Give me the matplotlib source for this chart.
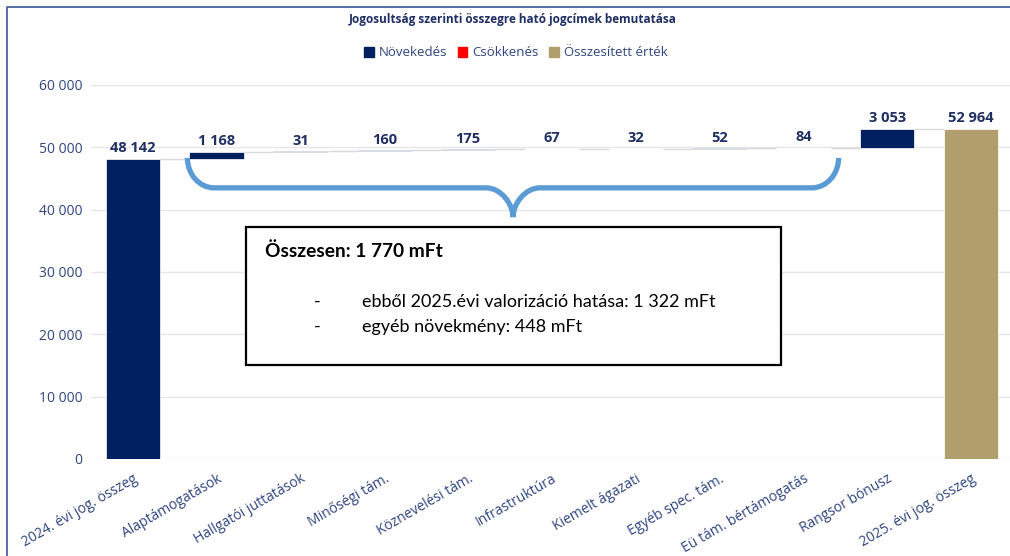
import matplotlib
matplotlib.use("Agg")
import matplotlib.pyplot as plt
from matplotlib.path import Path
from matplotlib.patches import PathPatch, Rectangle
from matplotlib.lines import Line2D
from matplotlib.ticker import FuncFormatter, MultipleLocator

# ---- data -------------------------------------------------------------
categories = [
    "2024. évi jog. összeg", "Alaptámogatások", "Hallgatói juttatások",
    "Minőségi tám.", "Köznevelési tám.", "Infrastruktúra",
    "Kiemelt ágazati", "Egyéb spec. tám.", "Eü tám. bértámogatás",
    "Rangsor bónusz", "2025. évi jog. összeg",
]
start_total = 48142
increments = [1168, 31, 160, 175, 67, 32, 52, 84, 3053]
end_total = 52964

title = "Jogosultság szerinti összegre ható jogcímek bemutatása"
legend_labels = ["Növekedés", "Csökkenés", "Összesített érték"]
box_title = "Összesen: 1 770 mFt"
box_lines = ["ebből 2025.évi valorizáció hatása: 1 322 mFt",
             "egyéb növekmény: 448 mFt"]

# ---- style ------------------------------------------------------------
C_UP = "#002060"
C_DOWN = "#ff0000"
C_TOTAL = "#b09e6c"
C_TEXT = "#1f2f63"
C_TICK = "#2f4580"
C_GRID = "#e6e6e6"
C_BRACE = "#5b9bd5"
C_FRAME = "#4a62a0"

plt.rcParams["font.family"] = ["Open Sans", "DejaVu Sans"]

W, H = 1010, 556
fig = plt.figure(figsize=(W / 100, H / 100), dpi=100)


def fx(px):
    return px / W


def fy(py):
    return 1 - py / H


ax = fig.add_axes([fx(91), fy(459), fx(1010) - fx(91), fy(85) - fy(459)])
ax.set_xlim(-0.5, 10.465)
ax.set_ylim(0, 60000)

# ---- waterfall bars ---------------------------------------------------
bar_w = 0.65
n = len(categories)
bottoms, heights, colors = [0], [start_total], [C_UP]
running = start_total
for v in increments:
    bottoms.append(running if v >= 0 else running + v)
    heights.append(abs(v))
    colors.append(C_UP if v >= 0 else C_DOWN)
    running += v
bottoms.append(0)
heights.append(end_total)
colors.append(C_TOTAL)

# connector lines at the running level between neighbouring bars
levels = [start_total]
acc = start_total
for v in increments:
    acc += v
    levels.append(acc)
for i, lvl in enumerate(levels):
    ax.plot([i + bar_w / 2, i + 1 - bar_w / 2], [lvl, lvl],
            color="#d9d9d9", lw=1.0, zorder=2, solid_capstyle="butt")

ax.bar(range(n), heights, bottom=bottoms, width=bar_w, color=colors,
       edgecolor="white", linewidth=0.5, zorder=3)

values = [start_total] + increments + [end_total]
for i, (b, h, v) in enumerate(zip(bottoms, heights, values)):
    ax.annotate(f"{v:,}".replace(",", " "), (i, b + h), xytext=(0, 2.5),
                textcoords="offset points", ha="center", va="bottom",
                fontsize=10.5, fontweight="bold", color=C_TEXT, zorder=5)

# ---- axes styling -----------------------------------------------------
ax.yaxis.set_major_locator(MultipleLocator(10000))
ax.yaxis.set_major_formatter(FuncFormatter(lambda v, _: f"{int(v):,}".replace(",", " ")))
ax.grid(axis="y", color=C_GRID, lw=1.0, zorder=0)
ax.set_axisbelow(True)
for s in ax.spines.values():
    s.set_visible(False)
ax.tick_params(axis="both", length=0, colors=C_TICK, labelsize=10)
ax.tick_params(axis="y", pad=6)
ax.set_xticks(range(n))
ax.set_xticklabels(categories, rotation=30, ha="right", rotation_mode="anchor")
ax.tick_params(axis="x", pad=9)

# ---- title and legend -------------------------------------------------
fig.text(fx(513), fy(19), title, ha="center", va="center", fontsize=8.5,
         fontweight="bold", color=C_TEXT)
handles = [Rectangle((0, 0), 1, 1, color=c) for c in (C_UP, C_DOWN, C_TOTAL)]
fig.legend(handles, legend_labels, loc="center", bbox_to_anchor=(fx(516), fy(53)),
           ncol=3, frameon=False, fontsize=9.5, handlelength=0.7, handleheight=0.7,
           handletextpad=0.4, columnspacing=0.8, labelcolor=C_TICK)

# ---- brace spanning the increment bars --------------------------------
xL = 1 - 0.35
xR = 8 + 0.42
xM = (xL + xR) / 2
y_top, y_mid, y_tip = 48300, 43500, 38800
rx = 0.32
k = 0.55
verts = [
    (xL, y_top),
    (xL, y_top - k * (y_top - y_mid)), (xL + rx * (1 - k), y_mid), (xL + rx, y_mid),
    (xM - rx, y_mid),
    (xM - rx * (1 - k), y_mid), (xM, y_mid - k * (y_mid - y_tip)), (xM, y_tip),
    (xM, y_mid - k * (y_mid - y_tip)), (xM + rx * (1 - k), y_mid), (xM + rx, y_mid),
    (xR - rx, y_mid),
    (xR - rx * (1 - k), y_mid), (xR, y_top - k * (y_top - y_mid)), (xR, y_top),
]
codes = [Path.MOVETO,
         Path.CURVE4, Path.CURVE4, Path.CURVE4,
         Path.LINETO,
         Path.CURVE4, Path.CURVE4, Path.CURVE4,
         Path.CURVE4, Path.CURVE4, Path.CURVE4,
         Path.LINETO,
         Path.CURVE4, Path.CURVE4, Path.CURVE4]
ax.add_patch(PathPatch(Path(verts, codes), facecolor="none", edgecolor=C_BRACE,
                       lw=3.8, capstyle="butt", zorder=4, clip_on=False))

# ---- summary box ------------------------------------------------------
fig.patches.append(Rectangle((fx(246), fy(365)), fx(781) - fx(246), fy(227) - fy(365),
                             transform=fig.transFigure, facecolor="white",
                             edgecolor="black", lw=1.6, zorder=6))
box_font = ["Lato", "DejaVu Sans"]
fig.text(fx(265), fy(251), box_title, ha="left", va="center", fontsize=13.8,
         fontweight="bold", family=box_font, color="black", zorder=7)
for j, line in enumerate(box_lines):
    yy = fy(302 + 25 * j)
    fig.text(fx(314), yy, "-", ha="left", va="center", fontsize=13,
             family=box_font, color="black", zorder=7)
    fig.text(fx(362), yy, line, ha="left", va="center", fontsize=13,
             family=box_font, color="black", zorder=7)

# ---- outer frame ------------------------------------------------------
fig.add_artist(Line2D([fx(7), fx(7), fx(1010)], [0, fy(7), fy(7)],
                      transform=fig.transFigure, color=C_FRAME, lw=1.3))

fig.savefig("out.png", dpi=100)
